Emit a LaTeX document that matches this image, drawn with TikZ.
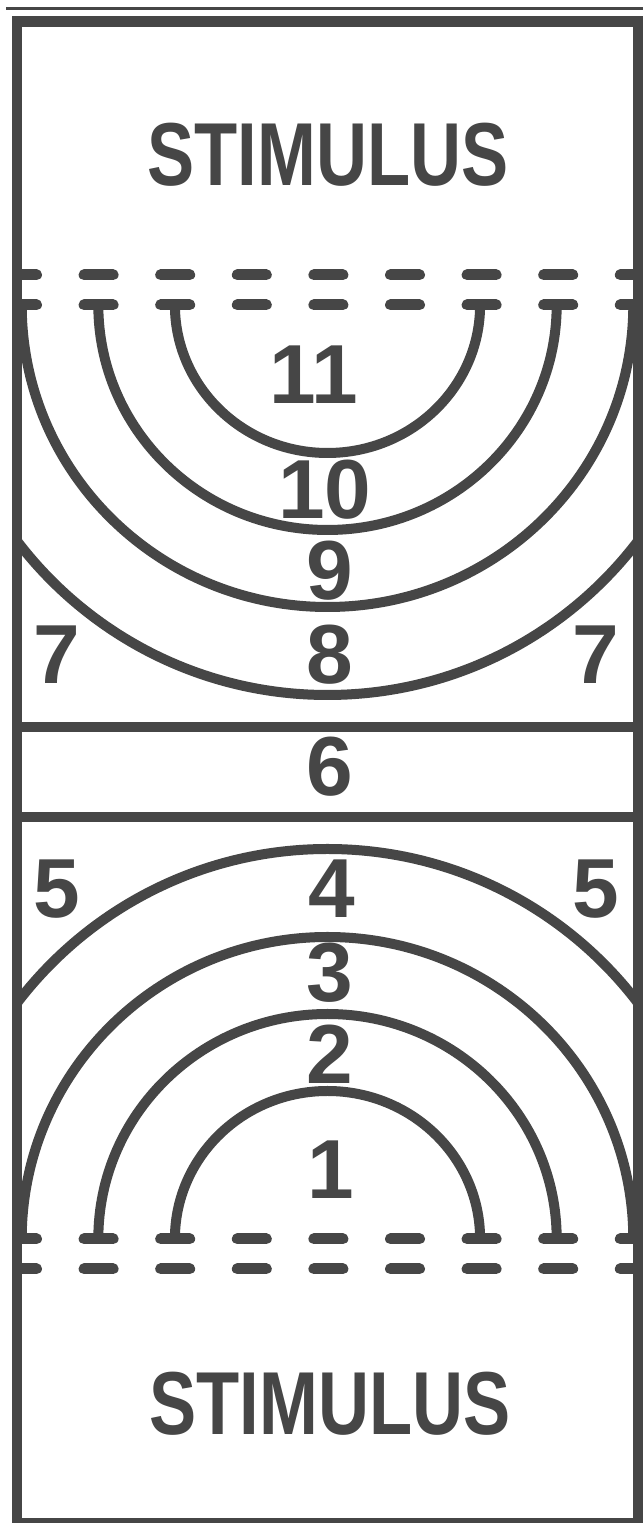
\documentclass[tikz,border=0pt]{standalone}
\usepackage{fontspec}
\setmainfont{Liberation Sans}
\definecolor{ink}{RGB}{70,70,70}
\begin{document}
\begin{tikzpicture}[x=1pt,y=1pt,
  lbl/.style={font=\fontsize{83.8}{84}\selectfont\bfseries, text=ink, inner sep=0pt},
  stim/.style={font=\fontsize{89.4}{90}\selectfont\bfseries, text=ink, inner sep=0pt},
  ring/.style={draw=ink, line width=10pt},
  frameline/.style={draw=ink, line width=10.5pt},
  dashseg/.style={draw=ink, line width=11pt, line cap=round},
  rule/.style={draw=ink, line width=3pt}]
\clip (0,0) rectangle (643,1523);
\fill[white] (0,0) rectangle (643,1523);
% thin rule at the very top
\draw[rule] (6,1514) -- (643,1514);
% dashed rows, kept inside the frame
\begin{scope}
\clip (17,0) rectangle (638,1501.5);
\foreach \k in {0,...,8}{
  \pgfmathsetmacro\cx{22+76.6*\k}
  \draw[dashseg] ({\cx-14.5},1248) -- ({\cx+14.5},1248);
  \draw[dashseg] ({\cx-14.5},1218) -- ({\cx+14.5},1218);
  \draw[dashseg] ({\cx-14.5},284) -- ({\cx+14.5},284);
  \draw[dashseg] ({\cx-14.5},254) -- ({\cx+14.5},254);
}
\end{scope}
% upper arcs (centre 327.5,1218)
\draw[ring] ({327.5-152.6},1218) arc[start angle=180, end angle=360, x radius=152.6, y radius=148];
\draw[ring] ({327.5-229.2},1218) arc[start angle=180, end angle=360, x radius=229.2, y radius=225];
\draw[ring] ({327.5-305.8},1218) arc[start angle=180, end angle=360, x radius=305.8, y radius=302];
\begin{scope}
  \clip (17,796) rectangle (638,1218);
  \draw[ring] (327.5,1218) circle[radius=390];
\end{scope}
% lower arcs (centre 327.5,284)
\draw[ring] ({327.5-152.6},284) arc[start angle=180, end angle=0, x radius=152.6, y radius=148];
\draw[ring] ({327.5-229.2},284) arc[start angle=180, end angle=0, x radius=229.2, y radius=225];
\draw[ring] ({327.5-305.8},284) arc[start angle=180, end angle=0, x radius=305.8, y radius=302];
\begin{scope}
  \clip (17,284) rectangle (638,706);
  \draw[ring] (327.5,284) circle[radius=390];
\end{scope}
% band of zone 6
\draw[frameline] (17,796) -- (638,796);
\draw[frameline] (17,706) -- (638,706);
% frame
\draw[frameline] (17,0) rectangle (638,1501.5);
% texts
\node[stim] (stimtop) at (328,1368) {\scalebox{0.79}[1]{STIMULUS}};
\node[stim] (stimbot) at (330,119) {\scalebox{0.79}[1]{STIMULUS}};
\node[lbl] (n11) at (314,1148) {11};
\node[lbl] (n10) at (325,1033) {10};
\node[lbl] (n9) at (330,952) {9};
\node[lbl] (n8) at (330,868) {8};
\node[lbl] (n7l) at (57,868) {7};
\node[lbl] (n7r) at (596,868) {7};
\node[lbl] (n6) at (330,756) {6};
\node[lbl] (n5l) at (57,634) {5};
\node[lbl] (n4) at (332,634) {4};
\node[lbl] (n5r) at (596,634) {5};
\node[lbl] (n3) at (330,550) {3};
\node[lbl] (n2) at (330,469) {2};
\node[lbl] (n1) at (331,353) {1};
\end{tikzpicture}
\end{document}
